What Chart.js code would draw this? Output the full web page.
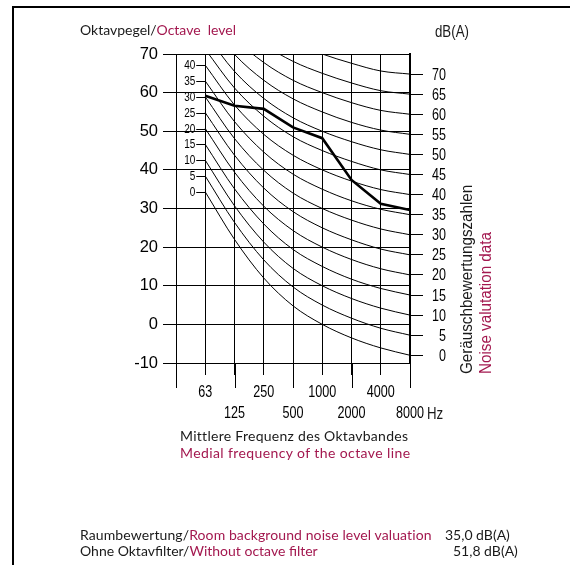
<!DOCTYPE html>
<html>
<head>
<meta charset="utf-8">
<script src="https://cdn.jsdelivr.net/npm/chart.js@4/dist/chart.umd.min.js"></script>
<style>
  html, body { margin: 0; padding: 0; background: #fff; }
  #wrap { position: relative; width: 570px; height: 565px; overflow: hidden; }
  #frame { position: absolute; left: 12px; top: 6px; right: -4px; bottom: -4px;
           border-top: 2px solid #000; border-left: 2px solid #000; }
  #chart { position: absolute; left: 0; top: 0; }
  .txt { position: absolute; font-family: Lato, sans-serif; font-size: 14px; line-height: 14px;
         color: #1a1a1a; white-space: nowrap; }
  .en { color: #a3184f; }
  .sans { font-family: 'Liberation Sans', Arial, sans-serif; font-size: 16px; line-height: 16px; }
  .squeeze { transform-origin: left top; transform: scaleX(0.78); }
  .rot { transform-origin: left top; transform: rotate(-90deg) scaleX(0.95); }
</style>
</head>
<body>
<div id="wrap">
  <div id="frame"></div>
  <canvas id="chart" width="570" height="565"></canvas>

  <div class="txt" style="left:80px; top:23px;">Oktavpegel/<span class="en">Octave&nbsp; level</span></div>
  <div class="txt sans squeeze" style="left:435px; top:24px; font-size:17px;">dB(A)</div>
  <div class="txt sans squeeze" style="left:427px; top:406px; font-size:17px;">Hz</div>

  <div class="txt sans rot" style="left:459px; top:374px;">Geräuschbewertungszahlen</div>
  <div class="txt sans rot en" style="left:478px; top:374px;">Noise valutation data</div>

  <div class="txt" style="left:180px; top:429px; letter-spacing:0.28px;">Mittlere Frequenz des Oktavbandes</div>
  <div class="txt en" style="left:180px; top:446px; letter-spacing:0.4px;">Medial frequency of the octave line</div>

  <div class="txt" style="left:80px; top:528px; letter-spacing:0.1px;">Raumbewertung/<span class="en">Room background noise level valuation</span></div>
  <div class="txt" style="left:445px; top:528px;">35,0 dB(A)</div>
  <div class="txt" style="left:80px; top:544px;">Ohne Oktavfilter/<span class="en">Without octave filter</span></div>
  <div class="txt" style="left:453px; top:544px;">51,8 dB(A)</div>
</div>

<script>
const freqLabels = ["63", "125", "250", "500", "1000", "2000", "4000", "8000"];
const levelTicks = [-10, 0, 10, 20, 30, 40, 50, 60, 70];
const nrLevels = [0, 5, 10, 15, 20, 25, 30, 35, 40, 45, 50, 55, 60, 65, 70];

// octave levels of each noise rating curve, 63 Hz .. 8000 Hz
const nr0  = [34.3, 22.0, 12.0,  4.8,  0.0, -3.5, -6.1, -8.0];
const nr5  = [38.4, 26.4, 16.7,  9.7,  5.0,  1.6, -1.0, -2.8];
const nr10 = [42.5, 30.7, 21.3, 14.5, 10.0,  6.7,  4.2,  2.4];
const nr15 = [46.6, 35.1, 26.0, 19.4, 15.0, 11.7,  9.3,  7.6];
const nr20 = [50.7, 39.4, 30.6, 24.3, 20.0, 16.8, 14.4, 12.8];
const nr25 = [54.8, 43.8, 35.3, 29.2, 25.0, 21.9, 19.5, 18.0];
const nr30 = [58.9, 48.1, 39.9, 34.0, 30.0, 27.0, 24.7, 23.2];
const nr35 = [63.0, 52.5, 44.6, 38.9, 35.0, 32.0, 29.8, 28.4];
const nr40 = [67.1, 56.8, 49.2, 43.8, 40.0, 37.1, 34.9, 33.6];
const nr45 = [71.2, 61.2, 53.9, 48.6, 45.0, 42.2, 40.0, 38.8];
const nr50 = [75.3, 65.5, 58.5, 53.5, 50.0, 47.3, 45.2, 44.0];
const nr55 = [79.4, 69.9, 63.2, 58.4, 55.0, 52.3, 50.3, 49.2];
const nr60 = [83.5, 74.2, 67.8, 63.2, 60.0, 57.4, 55.4, 54.4];
const nr65 = [87.6, 78.6, 72.5, 68.1, 65.0, 62.5, 60.5, 59.6];
const nr70 = [91.7, 82.9, 77.1, 73.0, 70.0, 67.6, 65.6, 64.8];
const nrCurves = [nr0, nr5, nr10, nr15, nr20, nr25, nr30, nr35, nr40, nr45, nr50, nr55, nr60, nr65, nr70];

// measured octave spectrum
const measured = [59.2, 56.6, 55.8, 51.0, 48.2, 37.4, 31.2, 29.6];

const sans = "'Liberation Sans', Arial, sans-serif";

const toPoints = (values) => values.map((v, i) => ({ x: i + 1, y: v }));

const datasets = nrCurves.map((curve, k) => ({
  label: "NR " + nrLevels[k],
  data: toPoints(curve),
  borderColor: "#000",
  borderWidth: 1,
  pointRadius: 0,
  cubicInterpolationMode: "monotone",
  fill: false
}));

datasets.push({
  label: "Octave level",
  data: toPoints(measured),
  borderColor: "#000",
  borderWidth: 2.6,
  pointRadius: 0,
  tension: 0,
  fill: false
});

// condensed text, anchored at (x, y)
function narrowText(ctx, text, x, y, size, align, sx) {
  ctx.save();
  ctx.font = size + "px " + sans;
  ctx.textAlign = align;
  ctx.textBaseline = "middle";
  ctx.translate(x, y);
  ctx.scale(sx, 1);
  ctx.fillText(text, 0, 0);
  ctx.restore();
}

// long ticks, condensed tick labels and the small NR labels at 63 Hz
const extras = {
  id: "extras",
  afterDraw(chart) {
    const { ctx, chartArea, scales: { x, y, y2 } } = chart;
    ctx.save();
    ctx.strokeStyle = "#000";
    ctx.fillStyle = "#000";
    ctx.lineWidth = 1;

    for (let i = 0; i <= 8; i += 2) {
      const px = Math.round(x.getPixelForValue(i)) + 0.5;
      ctx.beginPath();
      ctx.moveTo(px, chartArea.bottom);
      ctx.lineTo(px, chartArea.bottom + 25);
      ctx.stroke();
    }

    freqLabels.forEach((lbl, i) => {
      const px = x.getPixelForValue(i + 1);
      const py = chartArea.bottom + (i % 2 === 0 ? 29 : 50);
      narrowText(ctx, lbl, px, py, 17, "center", 0.74);
    });

    nrLevels.forEach((n) => {
      narrowText(ctx, String(n), chartArea.right + 36, y2.getPixelForValue(n) + 1, 16.5, "right", 0.76);
    });

    const x0 = x.getPixelForValue(1);
    nrLevels.forEach((n, k) => {
      if (n > 40) return;
      const py = Math.round(y.getPixelForValue(nrCurves[k][0])) + 0.5;
      ctx.beginPath();
      ctx.moveTo(x0 - 9, py);
      ctx.lineTo(x0, py);
      ctx.stroke();
      narrowText(ctx, String(n), x0 - 10, py, 12.5, "right", 0.8);
    });
    ctx.restore();
  }
};

new Chart(document.getElementById("chart"), {
  type: "line",
  data: { datasets },
  options: {
    responsive: false,
    animation: false,
    layout: { padding: { top: 54, left: 0, right: 124, bottom: 142 } },
    plugins: { legend: { display: false }, tooltip: { enabled: false } },
    scales: {
      x: {
        type: "linear",
        min: 0,
        max: 8,
        afterBuildTicks: (axis) => { axis.ticks = [0, 1, 2, 3, 4, 5, 6, 7, 8].map(v => ({ value: v })); },
        afterFit: (axis) => { axis.height = 60; },
        border: { display: false },
        grid: { color: "#000", lineWidth: 1, tickLength: 12, tickColor: "#000" },
        ticks: { display: false }
      },
      y: {
        min: -10,
        max: 70,
        afterBuildTicks: (axis) => { axis.ticks = levelTicks.map(v => ({ value: v })); },
        afterFit: (axis) => { axis.width = 176; },
        border: { color: "#000", width: 1 },
        grid: { color: "#000", lineWidth: 1, tickLength: 13 },
        ticks: { padding: 5, color: "#000", font: { family: sans, size: 16.5 } }
      },
      y2: {
        position: "right",
        min: -1.923,
        max: 75,
        afterBuildTicks: (axis) => { axis.ticks = nrLevels.map(v => ({ value: v })); },
        afterFit: (axis) => { axis.width = 36; },
        border: { color: "#000", width: 2 },
        grid: { drawOnChartArea: false, color: "#000", tickLength: 13 },
        ticks: { display: false }
      }
    }
  },
  plugins: [extras]
});
</script>
</body>
</html>
